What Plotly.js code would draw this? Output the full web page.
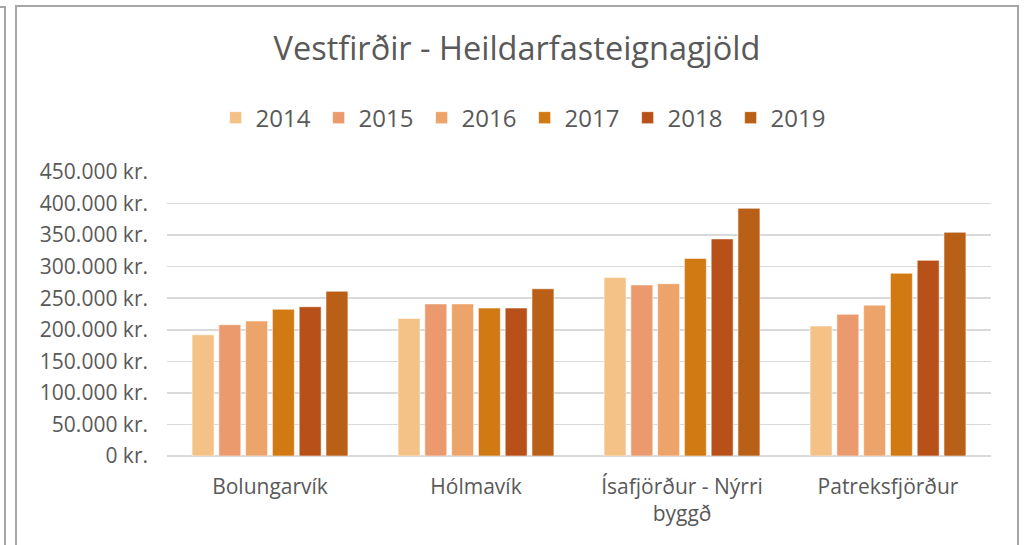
<!DOCTYPE html>
<html>
<head>
<meta charset="utf-8">
<script src="https://cdn.plot.ly/plotly-3.0.1.min.js"></script>
<style>
  html, body { margin: 0; padding: 0; background: #ffffff; width: 1025px; height: 545px; overflow: hidden; position: relative; }
  #outer { position: absolute; left: 4px; top: 6px; width: 0; height: 539px; border-left: 2px solid #a6a6a6; }
  #outerTop { position: absolute; left: 0px; top: 6px; width: 5px; height: 0; border-top: 2px solid #a6a6a6; }
  #frame { position: absolute; left: 15px; top: 5px; width: 1004px; height: 540px; border-left: 2px solid #a6a6a6; border-top: 2px solid #a6a6a6; border-right: 2px solid #a6a6a6; box-sizing: border-box; }
  #chart { position: absolute; left: 17px; top: 7px; width: 1000px; height: 538px; }
</style>
</head>
<body>
<div id="outer"></div>
<div id="outerTop"></div>
<div id="frame"></div>
<div id="chart"></div>
<script>
const categories = ["Bolungarvík", "Hólmavík", "Ísafjörður - Nýrri<br>byggð", "Patreksfjörður"];
const years = ["2014", "2015", "2016", "2017", "2018", "2019"];
const v2014 = [192000, 218000, 283000, 206000];
const v2015 = [208000, 241000, 271000, 224500];
const v2016 = [214000, 241000, 273000, 239000];
const v2017 = [232500, 234500, 313000, 289500];
const v2018 = [236500, 234500, 344000, 310000];
const v2019 = [261000, 265000, 392500, 354500];
const seriesValues = [v2014, v2015, v2016, v2017, v2018, v2019];
const colors = ["#F4C187", "#EB9A6D", "#EDA46A", "#D17A14", "#B85119", "#B95F16"];
const yTicks = [0, 50000, 100000, 150000, 200000, 250000, 300000, 350000, 400000, 450000];
const yTickText = ["0 kr.", "50.000 kr.", "100.000 kr.", "150.000 kr.", "200.000 kr.", "250.000 kr.", "300.000 kr.", "350.000 kr.", "400.000 kr.", "450.000 kr."];

const FONT = "'Open Sans', sans-serif";
const traces = years.map((y, i) => ({
  type: "bar",
  name: y,
  x: categories,
  y: seriesValues[i],
  marker: { color: colors[i], line: { color: "rgba(255,255,255,0.55)", width: 1 } },
  hoverinfo: "none"
}));

const layout = {
  width: 1000,
  height: 538,
  paper_bgcolor: "#ffffff",
  plot_bgcolor: "#ffffff",
  font: { family: FONT, color: "#595959", size: 21 },
  title: { text: "Vestfirðir - Heildarfasteignagjöld", font: { family: FONT, size: 32.5, color: "#595959" }, x: 0.5, xanchor: "center", y: 0.922, yanchor: "middle" },
  margin: { l: 150, r: 26, t: 165, b: 89 },
  barmode: "group",
  bargap: 0.22,
  bargroupgap: 0.18,
  showlegend: true,
  legend: {
    orientation: "h", x: 0.434, xanchor: "center", y: 1.19, yanchor: "middle",
    font: { family: FONT, size: 24, color: "#595959" },
    itemwidth: 30, entrywidth: 58, entrywidthmode: "pixels", traceorder: "normal"
  },
  xaxis: {
    type: "category",
    showgrid: false, zeroline: false, showline: false,
    ticks: "", ticklabelstandoff: 16,
    tickfont: { family: FONT, size: 21, color: "#595959" }
  },
  yaxis: {
    range: [0, 450000],
    tickmode: "array",
    tickvals: yTicks,
    ticktext: yTickText,
    showgrid: true, gridcolor: "#d9d9d9", gridwidth: 1.5,
    zeroline: true, zerolinecolor: "#d9d9d9", zerolinewidth: 1.5,
    showline: false, ticks: "", ticklabelstandoff: 18,
    tickfont: { family: FONT, size: 21, color: "#595959" }
  }
};

Plotly.newPlot("chart", traces, layout, { staticPlot: true, displayModeBar: false });
</script>
</body>
</html>
